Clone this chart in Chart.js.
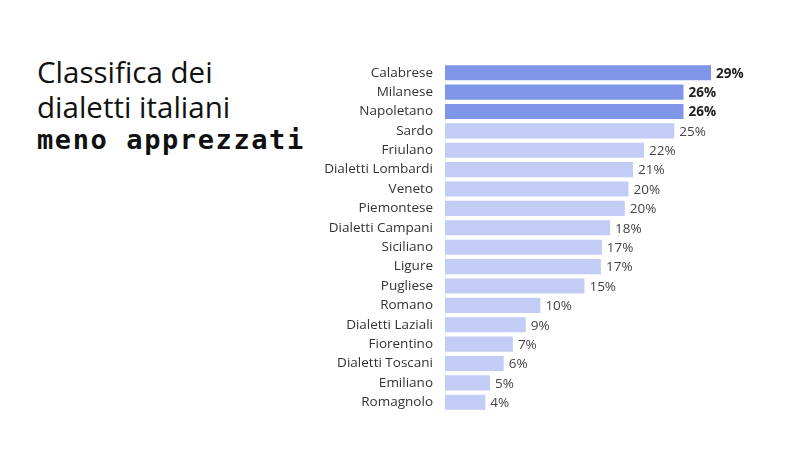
<!DOCTYPE html>
<html>
<head>
    <title>Dialetti meno apprezzati</title>
    <script src="https://cdn.jsdelivr.net/npm/chart.js@4"></script>
    <style>
        body { margin: 0; background: #fff; }
        .line {
            position: absolute; left: 37px;
            font-family: 'Open Sans', sans-serif; color: #111;
            font-size: 29.5px; line-height: 29px; white-space: nowrap;
        }
        .mono {
            font-family: 'DejaVu Sans Mono', monospace; font-weight: bold;
            font-size: 27px; letter-spacing: 1.6px;
        }
        .chart-container { position: absolute; left: 0; top: 0; width: 800px; height: 450px; }
    </style>
</head>
<body>
<div class="line" style="top:57px">Classifica dei</div>
<div class="line" style="top:92px">dialetti italiani</div>
<div class="line mono" style="top:125px">meno apprezzati</div>
<div class="chart-container">
    <canvas id="myChart" width="800" height="450"></canvas>
</div>

<script>
    const dialetti = ['Calabrese', 'Milanese', 'Napoletano', 'Sardo', 'Friulano', 'Dialetti Lombardi',
        'Veneto', 'Piemontese', 'Dialetti Campani', 'Siciliano', 'Ligure', 'Pugliese', 'Romano',
        'Dialetti Laziali', 'Fiorentino', 'Dialetti Toscani', 'Emiliano', 'Romagnolo'];
    // percentages (bar lengths, labels shown rounded)
    const percentuali = [29, 26, 26, 25, 21.7, 20.5, 20, 19.6, 18, 17.1, 17, 15.2, 10.4, 8.8, 7.4, 6.4, 4.9, 4.4];
    const evidenziati = 3; // first three bars are highlighted

    const barColors = percentuali.map((v, i) => i < evidenziati ? '#7f95e8' : '#c3ccf5');

    // draws the "29%" labels at the end of each bar
    const valueLabels = {
        id: 'valueLabels',
        afterDatasetsDraw(chart) {
            const ctx = chart.ctx;
            const meta = chart.getDatasetMeta(0);
            ctx.save();
            ctx.textBaseline = 'middle';
            ctx.textAlign = 'left';
            meta.data.forEach((bar, i) => {
                ctx.font = (i < evidenziati ? 'bold ' : '') + '13.5px "Open Sans"';
                ctx.fillStyle = i < evidenziati ? '#222' : '#444';
                ctx.fillText(Math.round(percentuali[i]) + '%', bar.x + 5, bar.y + 1);
            });
            ctx.restore();
        }
    };

    const ctx = document.getElementById('myChart').getContext('2d');
    const chart = new Chart(ctx, {
        type: 'bar',
        data: {
            labels: dialetti,
            datasets: [{
                data: percentuali,
                backgroundColor: barColors,
                categoryPercentage: 0.78,
                barPercentage: 1.0
            }]
        },
        options: {
            indexAxis: 'y',
            responsive: false,
            animation: false,
            layout: { padding: { top: 63, bottom: 38, right: 0, left: 0 } },
            plugins: { legend: { display: false }, tooltip: { enabled: false } },
            scales: {
                x: { display: false, min: 0, max: 38.7 },
                y: {
                    afterFit(scale) { scale.width = 445; },
                    grid: { display: false, drawTicks: false },
                    border: { display: true, color: '#f2f2f2', width: 1 },
                    ticks: {
                        padding: 12,
                        color: '#333',
                        font: { family: 'Open Sans', size: 13.5 }
                    }
                }
            }
        },
        plugins: [valueLabels]
    });
</script>
</body>
</html>
